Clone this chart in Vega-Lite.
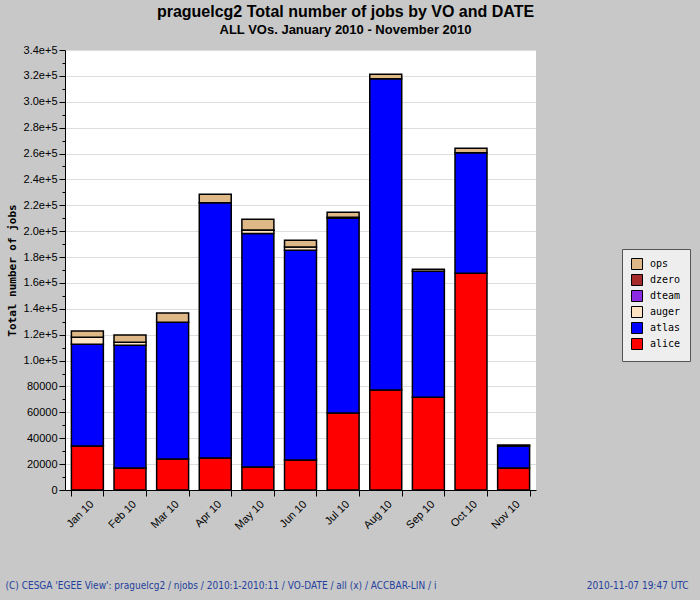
{
  "$schema": "https://vega.github.io/schema/vega-lite/v6.json",
  "width": 471,
  "height": 440,
  "autosize": "none",
  "padding": {"left": 65, "top": 50, "right": 164, "bottom": 110},
  "background": "#c8c8c8",
  "title": {
    "text": "praguelcg2 Total number of jobs by VO and DATE",
    "subtitle": "ALL VOs. January 2010 - November 2010",
    "anchor": "middle",
    "dx": 45,
    "offset": 7,
    "font": "Liberation Sans",
    "fontSize": 16,
    "fontWeight": "bold",
    "color": "#000000",
    "subtitleFont": "Liberation Sans",
    "subtitleFontSize": 13,
    "subtitleFontWeight": "bold",
    "subtitleColor": "#000000",
    "subtitlePadding": 4
  },
  "data": {
    "values": [
      {"month": "Jan 10", "vo": "alice", "jobs": 34000},
      {"month": "Jan 10", "vo": "atlas", "jobs": 78600},
      {"month": "Jan 10", "vo": "auger", "jobs": 5400},
      {"month": "Jan 10", "vo": "ops", "jobs": 4900},
      {"month": "Feb 10", "vo": "alice", "jobs": 17000},
      {"month": "Feb 10", "vo": "atlas", "jobs": 94800},
      {"month": "Feb 10", "vo": "auger", "jobs": 2300},
      {"month": "Feb 10", "vo": "ops", "jobs": 5700},
      {"month": "Mar 10", "vo": "alice", "jobs": 24000},
      {"month": "Mar 10", "vo": "atlas", "jobs": 105600},
      {"month": "Mar 10", "vo": "ops", "jobs": 7200},
      {"month": "Apr 10", "vo": "alice", "jobs": 24700},
      {"month": "Apr 10", "vo": "atlas", "jobs": 197300},
      {"month": "Apr 10", "vo": "ops", "jobs": 6500},
      {"month": "May 10", "vo": "alice", "jobs": 17800},
      {"month": "May 10", "vo": "atlas", "jobs": 180500},
      {"month": "May 10", "vo": "auger", "jobs": 2400},
      {"month": "May 10", "vo": "dzero", "jobs": 300},
      {"month": "May 10", "vo": "ops", "jobs": 8200},
      {"month": "Jun 10", "vo": "alice", "jobs": 23200},
      {"month": "Jun 10", "vo": "atlas", "jobs": 162000},
      {"month": "Jun 10", "vo": "auger", "jobs": 2600},
      {"month": "Jun 10", "vo": "ops", "jobs": 5200},
      {"month": "Jul 10", "vo": "alice", "jobs": 59500},
      {"month": "Jul 10", "vo": "atlas", "jobs": 150500},
      {"month": "Jul 10", "vo": "auger", "jobs": 800},
      {"month": "Jul 10", "vo": "ops", "jobs": 3800},
      {"month": "Aug 10", "vo": "alice", "jobs": 77300},
      {"month": "Aug 10", "vo": "atlas", "jobs": 240500},
      {"month": "Aug 10", "vo": "ops", "jobs": 3400},
      {"month": "Sep 10", "vo": "alice", "jobs": 71700},
      {"month": "Sep 10", "vo": "atlas", "jobs": 97300},
      {"month": "Sep 10", "vo": "ops", "jobs": 1500},
      {"month": "Oct 10", "vo": "alice", "jobs": 167400},
      {"month": "Oct 10", "vo": "atlas", "jobs": 93200},
      {"month": "Oct 10", "vo": "ops", "jobs": 3400},
      {"month": "Nov 10", "vo": "alice", "jobs": 17000},
      {"month": "Nov 10", "vo": "atlas", "jobs": 17000},
      {"month": "Nov 10", "vo": "ops", "jobs": 800}
    ]
  },
  "encoding": {
    "x": {
      "field": "month",
      "type": "nominal",
      "sort": ["Jan 10", "Feb 10", "Mar 10", "Apr 10", "May 10", "Jun 10", "Jul 10", "Aug 10", "Sep 10", "Oct 10", "Nov 10"],
      "scale": {"paddingInner": 0.25, "paddingOuter": 0.15},
      "axis": {
        "title": "(C) CESGA 'EGEE View': praguelcg2 / njobs / 2010:1-2010:11 / VO-DATE / all (x) / ACCBAR-LIN / i",
        "labelAngle": -45,
        "tickBand": "extent",
        "labelFont": "Liberation Sans",
        "labelFontSize": 11,
        "labelColor": "#000000",
        "labelPadding": 2,
        "domainColor": "#000000",
        "tickColor": "#000000",
        "tickSize": 6,
        "grid": false,
        "titleX": -60,
        "titleY": 98,
        "titleAlign": "left",
        "titleAnchor": "start",
        "titleBaseline": "alphabetic",
        "titleFont": "DejaVu Sans Condensed, Liberation Sans",
        "titleFontSize": 10,
        "titleFontWeight": "normal",
        "titleColor": "#24409c"
      }
    }
  },
  "layer": [
    {
      "mark": {"type": "bar", "stroke": "#000000", "strokeWidth": 1.5},
      "encoding": {
        "y": {
          "field": "jobs",
          "type": "quantitative",
          "stack": "zero",
          "scale": {"domain": [0, 340000], "nice": false, "zero": true},
          "axis": {
            "title": "Total number of jobs",
            "values": [0, 10000, 20000, 30000, 40000, 50000, 60000, 70000, 80000, 90000, 100000, 110000, 120000, 130000, 140000, 150000, 160000, 170000, 180000, 190000, 200000, 210000, 220000, 230000, 240000, 250000, 260000, 270000, 280000, 290000, 300000, 310000, 320000, 330000, 340000],
            "labelExpr": "datum.value % 20000 != 0 ? '' : (datum.value >= 100000 ? format(datum.value / 100000, '.1f') + 'e+5' : format(datum.value, 'd'))",
            "labelOverlap": false,
            "labelFont": "Liberation Sans",
            "labelFontSize": 11,
            "labelColor": "#000000",
            "labelPadding": 2,
            "domainColor": "#000000",
            "tickColor": "#000000",
            "tickSize": {"condition": {"test": "datum.value % 20000 == 0", "value": 6}, "value": 3},
            "grid": true,
            "gridColor": "#dddddd",
            "gridWidth": 1,
            "gridOpacity": {"condition": {"test": "datum.value % 20000 == 0 && datum.value > 0", "value": 1}, "value": 0},
            "titleFont": "DejaVu Sans Mono",
            "titleFontSize": 11,
            "titleFontWeight": "bold",
            "titleColor": "#000000",
            "titleAngle": -90,
            "titleX": -53,
            "titleY": 220,
            "titleAlign": "center",
            "titleBaseline": "middle"
          }
        },
        "color": {
          "field": "vo",
          "type": "nominal",
          "scale": {
            "domain": ["ops", "dzero", "dteam", "auger", "atlas", "alice"],
            "range": ["#deb887", "#a52a2a", "#8a2be2", "#ffe4c4", "#0000ff", "#ff0000"]
          },
          "legend": {
            "orient": "none",
            "legendX": 557,
            "legendY": 199,
            "title": null,
            "symbolType": "square",
            "symbolSize": 121,
            "symbolStrokeColor": "#000000",
            "symbolStrokeWidth": 1,
            "symbolOpacity": 1,
            "fillColor": "#eeeeee",
            "strokeColor": "#555555",
            "padding": 9,
            "rowPadding": 0,
            "labelFont": "DejaVu Sans Mono",
            "labelFontSize": 10,
            "labelColor": "#000000",
            "labelOffset": 7
          }
        },
        "order": {"field": "vo", "sort": "ascending"}
      }
    },
    {
      "mark": {"type": "bar", "opacity": 0},
      "encoding": {
        "y": {
          "field": "jobs",
          "type": "quantitative",
          "axis": {
            "orient": "right",
            "title": "2010-11-07 19:47 UTC",
            "labels": false,
            "ticks": false,
            "domain": false,
            "grid": false,
            "titleAngle": 0,
            "titleX": 152,
            "titleY": 538,
            "titleAlign": "right",
            "titleBaseline": "alphabetic",
            "titleFont": "DejaVu Sans Condensed, Liberation Sans",
            "titleFontSize": 10,
            "titleFontWeight": "normal",
            "titleColor": "#24409c"
          }
        }
      }
    }
  ],
  "resolve": {"axis": {"y": "independent"}},
  "config": {"view": {"stroke": null, "fill": "#ffffff"}}
}
